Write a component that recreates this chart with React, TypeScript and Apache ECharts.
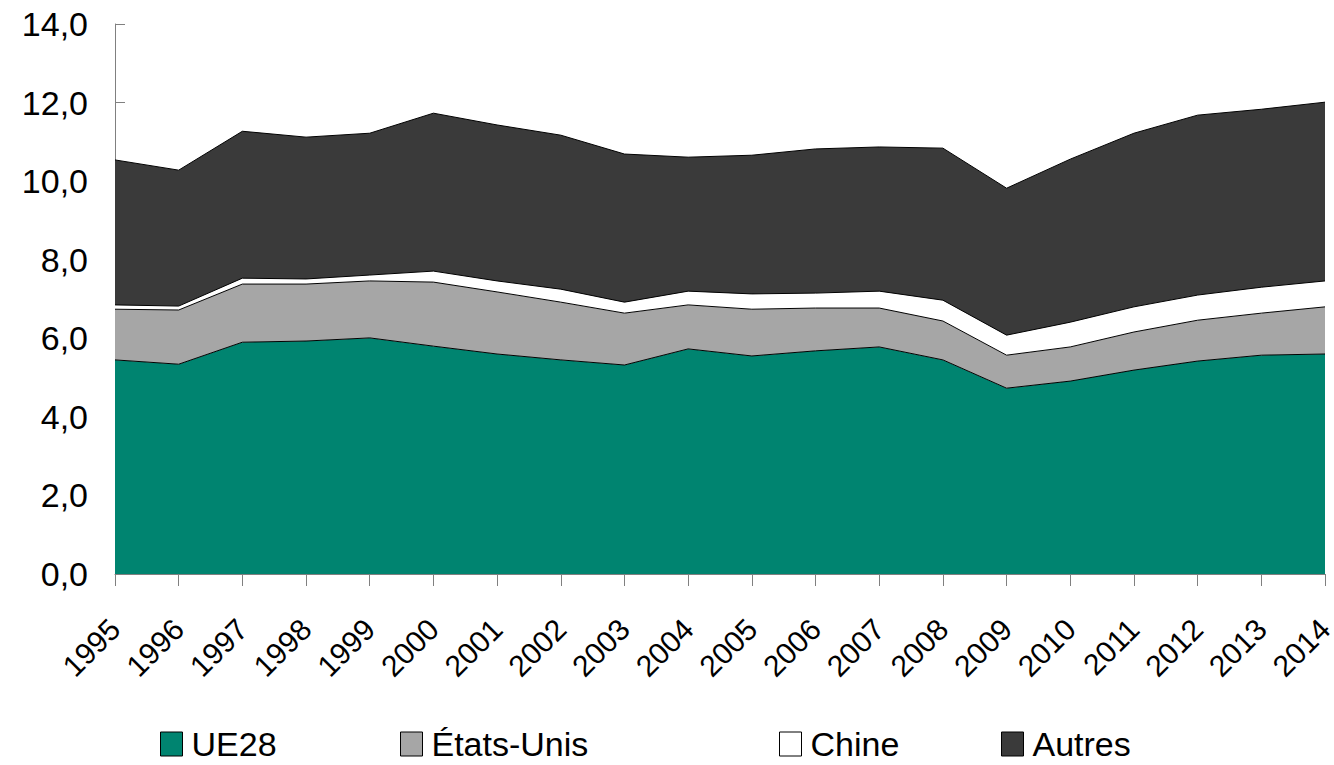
import React, { useEffect, useRef } from "react";
import * as echarts from "echarts";

const years = ["1995","1996","1997","1998","1999","2000","2001","2002","2003","2004","2005","2006","2007","2008","2009","2010","2011","2012","2013","2014"];
const ue28 = [5.45,5.34,5.90,5.93,6.01,5.80,5.60,5.45,5.32,5.73,5.55,5.68,5.78,5.45,4.73,4.91,5.19,5.42,5.57,5.60];
const etatsUnis = [1.29,1.38,1.48,1.45,1.45,1.63,1.58,1.47,1.32,1.12,1.19,1.09,0.99,0.99,0.84,0.87,0.97,1.04,1.07,1.20];
const chine = [0.11,0.10,0.15,0.13,0.15,0.28,0.28,0.33,0.28,0.35,0.39,0.38,0.43,0.53,0.51,0.63,0.64,0.64,0.66,0.66];
const autres = [3.69,3.46,3.74,3.61,3.61,4.02,3.97,3.92,3.77,3.41,3.53,3.67,3.67,3.87,3.74,4.15,4.42,4.58,4.53,4.55];
const yTicks = [0, 2, 4, 6, 8, 10, 12, 14];

const FONT = "'Liberation Sans', Arial, sans-serif";

const seriesDefs = [
  { name: "UE28", data: ue28, color: "#008470" },
  { name: "États-Unis", data: etatsUnis, color: "#a6a6a6" },
  { name: "Chine", data: chine, color: "#ffffff" },
  { name: "Autres", data: autres, color: "#3a3a3a" },
];

const legendLefts = [155, 395, 774, 996];

export default function App() {
  const ref = useRef<HTMLDivElement>(null);
  useEffect(() => {
    if (!ref.current) return;
    const chart = echarts.init(ref.current, undefined, { renderer: "svg" });
    chart.setOption({
      animation: false,
      backgroundColor: "#ffffff",
      grid: { left: 115, right: 9, top: 24, bottom: 191, containLabel: false, outerBoundsMode: "none" },
      legend: seriesDefs.map((s, i) => ({
        left: legendLefts[i],
        top: 722,
        icon: "rect",
        itemWidth: 22,
        itemHeight: 24,
        itemGap: 0,
        selectedMode: false,
        textStyle: { fontFamily: FONT, fontSize: 34, color: "#000", padding: [0, 0, 0, 4] },
        data: [{ name: s.name, itemStyle: { color: s.color, borderColor: "#000", borderWidth: 1 } }],
      })),
      xAxis: {
        type: "category",
        data: years,
        boundaryGap: false,
        axisLine: { lineStyle: { color: "#808080", width: 1 } },
        axisTick: { alignWithLabel: true, length: 12, lineStyle: { color: "#808080" } },
        axisLabel: {
          rotate: 45,
          fontFamily: FONT,
          fontSize: 30,
          color: "#000",
          margin: 50,
          interval: 0,
          align: "right",
          verticalAlign: "middle",
        },
      },
      yAxis: {
        type: "value",
        min: 0,
        max: 14,
        interval: 2,
        splitLine: { show: false },
        axisLine: { show: true, lineStyle: { color: "#808080", width: 1 } },
        axisTick: { show: true, inside: true, length: 10, lineStyle: { color: "#808080" } },
        axisLabel: {
          fontFamily: FONT,
          fontSize: 34,
          color: "#000",
          margin: 27,
          formatter: (v: number) => (yTicks.includes(v) ? v.toFixed(1).replace(".", ",") : ""),
        },
      },
      series: seriesDefs.map((s) => ({
        name: s.name,
        type: "line",
        stack: "total",
        data: s.data,
        symbol: "none",
        lineStyle: { color: "#000", width: 1 },
        itemStyle: { color: s.color },
        areaStyle: { color: s.color, opacity: 1 },
      })),
    });
    return () => chart.dispose();
  }, []);
  return <div ref={ref} style={{ width: 1334, height: 765, position: "absolute", left: 0, top: 0 }} />;
}
